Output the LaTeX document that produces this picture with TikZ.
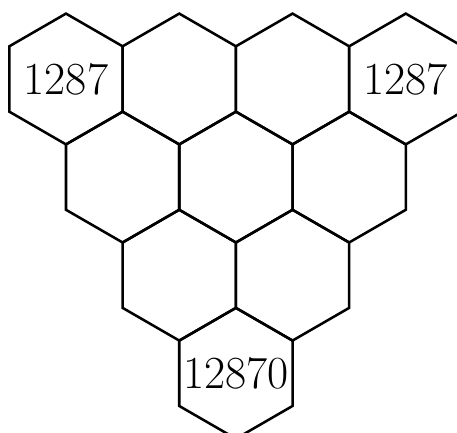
\documentclass[tikz,border=0pt]{standalone}
\usepackage{tikz}
\usetikzlibrary{positioning}

\tikzset{
    hexline/.style={line width=1.1pt, line join=miter},
    count/.style={font=\fontsize{20}{24}\selectfont, inner sep=0pt}
}

\begin{document}
\begin{tikzpicture}
    % Picture frame (cuts the outer cells like the original)
    \clip (-1.009,-5.413) rectangle (5.979,1.208);

    % Triangle of hexagonal cells, 4-3-2-1
    \foreach \r in {0,...,3} {
        \pgfmathtruncatemacro\last{3-\r}
        \foreach \c in {0,...,\last} {
            \draw[hexline, shift={({(\c+\r/2)*1.7321},{-1.5*\r})}]
                (90:1) -- (150:1) -- (210:1) -- (270:1) -- (330:1) -- (30:1) -- cycle;
        }
    }

    % Counts
    \node[count] (topleft) at (0,0) {1287};
    \node[count] (topright) at (3*1.7321,0) {1287};
    \node[count] (bottom) at (1.5*1.7321,-4.5) {12870};
\end{tikzpicture}
\end{document}
